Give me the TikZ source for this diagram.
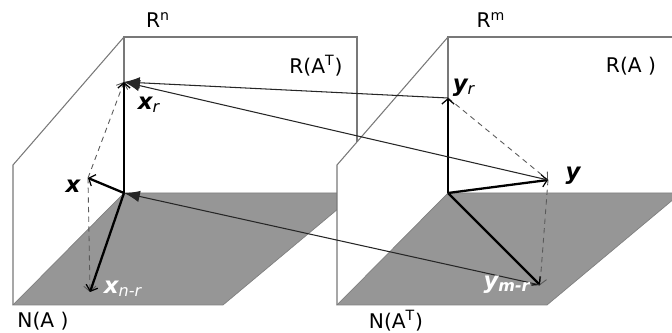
\documentclass[tikz,border=0pt]{standalone}
\usepackage{fontspec}
\setmainfont{DejaVu Sans}
\usetikzlibrary{arrows.meta, positioning}

\definecolor{floorgray}{RGB}{150,150,150}
\definecolor{edgegray}{RGB}{120,120,120}

\begin{document}
\begin{tikzpicture}[
  x=0.02cm, y=-0.02cm,
  edge/.style={draw=edgegray, line width=0.6pt},
  floor/.style={fill=floorgray, draw=floorgray!85!black, line width=0.4pt},
  vec/.style={line width=1.3pt, -{Straight Barb[length=3pt,width=7pt,line width=0.7pt]}},
  proj/.style={draw=black!65, line width=0.5pt, dash pattern=on 3pt off 2.5pt,
               -{Straight Barb[length=3pt,width=7pt]}},
  map/.style={line width=0.6pt, draw=black!85, -{Latex[length=9pt,width=6.5pt]}},
  space/.style={font=\fontsize{11.5}{13}\selectfont},
  vlbl/.style={font=\fontsize{13}{15}\selectfont\bfseries\itshape},
]
  \clip (0,0) rectangle (672,333);

  % row space / null space of A
  \fill[floor] (124,193) -- (357,193) -- (223,305) -- (13,305) -- cycle;
  \draw[edge] (124,193) -- (124,37) -- (357,37) -- (357,193);
  \draw[edge] (124,37) -- (13,165) -- (13,305);

  % column space / left null space
  \fill[white] (337,165) -- (448,37) -- (448,193) -- (337,305) -- cycle;
  \fill[floor] (448,193) -- (681,193) -- (547,305) -- (337,305) -- cycle;
  \draw[edge] (448,193) -- (448,37) -- (681,37);
  \draw[edge] (448,37) -- (337,165) -- (337,305);

  \coordinate (O1) at (124,193);
  \coordinate (xr) at (124,82);
  \coordinate (x) at (88,178);
  \coordinate (xn) at (90,292);
  \coordinate (O2) at (448,193);
  \coordinate (yr) at (448,98);
  \coordinate (y) at (548,180);
  \coordinate (yn) at (540,285);

  \draw[proj] (x) -- (xr);
  \draw[proj] (x) -- (xn);
  \draw[proj] (yr) -- (y);
  \draw[proj] (y) -- (yn);

  \draw[vec] (O1) -- (xr);
  \draw[vec] (O1) -- (x);
  \draw[vec] (O1) -- (xn);
  \draw[vec] (O2) -- (yr);
  \draw[vec] (O2) -- (y);
  \draw[vec] (O2) -- (yn);

  \draw[map] (yr) -- (xr);
  \draw[map] (y) -- (xr);
  \draw[map] (yn) -- (O1);

  \node[space] (Rn) at (158,20) {R\textsuperscript{n}};
  \node[space] (RAT) at (316,66) {R(A\textsuperscript{T})};
  \node[space] (NA) at (43,321) {N(A )};
  \node[space] (Rm) at (491,20) {R\textsuperscript{m}};
  \node[space] (RA) at (631,66) {R(A )};
  \node[space] (NAT) at (396,321) {N(A\textsuperscript{T})};

  \node[vlbl] (lxr) at (149,105) {x\textsubscript{\mdseries r}};
  \node[vlbl] (lx) at (73,186) {x};
  \node[vlbl, text=white] (lxn) at (123,289) {x\textsubscript{\mdseries n-r}};
  \node[vlbl] (lyr) at (464,88) {y\textsubscript{\mdseries r}};
  \node[vlbl] (ly) at (573,176) {y};
  \node[vlbl, text=white] (lyn) at (507,285) {y\textsubscript{m-r}};
\end{tikzpicture}
\end{document}
